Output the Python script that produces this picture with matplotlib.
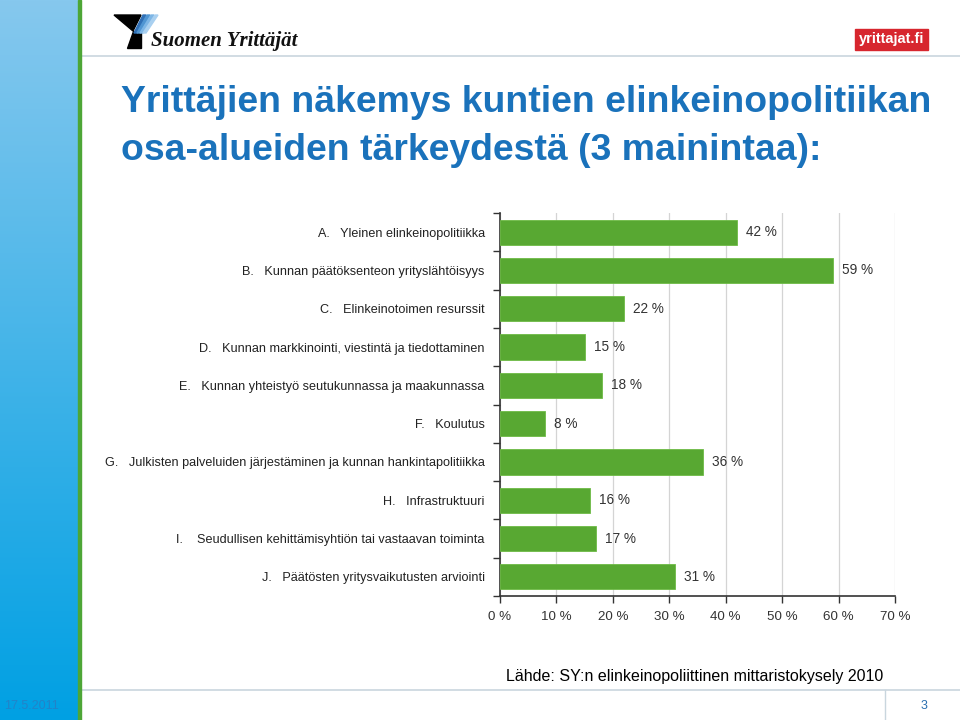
import numpy as np
import matplotlib
matplotlib.use("Agg")
import matplotlib.pyplot as plt
from matplotlib.patches import Rectangle, Polygon
from matplotlib.lines import Line2D

categories = [
    "A.   Yleinen elinkeinopolitiikka",
    "B.   Kunnan päätöksenteon yrityslähtöisyys",
    "C.   Elinkeinotoimen resurssit",
    "D.   Kunnan markkinointi, viestintä ja tiedottaminen",
    "E.   Kunnan yhteistyö seutukunnassa ja maakunnassa",
    "F.   Koulutus",
    "G.   Julkisten palveluiden järjestäminen ja kunnan hankintapolitiikka",
    "H.   Infrastruktuuri",
    "I.    Seudullisen kehittämisyhtiön tai vastaavan toiminta",
    "J.   Päätösten yritysvaikutusten arviointi",
]
values = [42, 59, 22, 15, 18, 8, 36, 16, 17, 31]
xticks = [0, 10, 20, 30, 40, 50, 60, 70]
xticklabels = ["0 %", "10 %", "20 %", "30 %", "40 %", "50 %", "60 %", "70 %"]

title_lines = ["Yrittäjien näkemys kuntien elinkeinopolitiikan",
               "osa-alueiden tärkeydestä (3 mainintaa):"]
source = "Lähde: SY:n elinkeinopoliittinen mittaristokysely 2010"
date = "17.5.2011"
page = "3"

sans = ["Liberation Sans", "DejaVu Sans"]
plt.rcParams["font.family"] = sans

W, H = 960, 720
fig = plt.figure(figsize=(W / 100, H / 100), dpi=100)
fig.patch.set_facecolor("white")

def fx(px):
    return px / W

def fy(py):
    return 1 - py / H

# left blue strip with gradient
strip = fig.add_axes([0, 0, fx(78), 1])
grad = np.linspace(0, 1, 256).reshape(-1, 1)
top = np.array([0x86, 0xc8, 0xee]) / 255
bot = np.array([0x00, 0xa0, 0xe3]) / 255
img = top[None, None, :] * (1 - grad[..., None]) + bot[None, None, :] * grad[..., None]
strip.imshow(img, aspect="auto", extent=[0, 1, 0, 1], origin="upper")
strip.set_axis_off()

# overlay (lines and shapes in figure coords)
ov = fig.add_axes([0, 0, 1, 1], facecolor="none")
ov.set_xlim(0, W)
ov.set_ylim(H, 0)
ov.set_axis_off()
ov.add_patch(Rectangle((78, 0), 3, H, color="#4da636", zorder=3))
ov.add_line(Line2D([82, W], [56, 56], color="#c9d6de", lw=1.2))
ov.add_line(Line2D([82, W], [690, 690], color="#c9d6de", lw=1.2))
ov.add_line(Line2D([885, 885], [690, H], color="#c9d6de", lw=1.0))

# Suomen Yrittäjät logo
ov.add_patch(Polygon([[114, 15], [141, 15], [133, 31]], closed=True, color="black"))
ov.add_patch(Polygon([[133, 31], [141, 31], [141, 48], [127, 48]], closed=True, color="black"))
for i, c in enumerate(["#2f6fb5", "#4f95d2", "#7db6e6", "#a9d0f0"]):
    ov.add_patch(Polygon([[143 + i * 4, 15], [146 + i * 4, 15], [137 + i * 3, 33], [134 + i * 3, 33]],
                         closed=True, color=c))
ov.text(151, 46, "Suomen Yrittäjät", fontsize=15, fontstyle="italic", fontweight="bold",
        family=["Liberation Serif", "DejaVu Serif"], color="#111111", va="baseline", ha="left")

# yrittajat.fi logo
ov.add_patch(Rectangle((855, 29), 73, 21, color="#d7262e"))
ov.text(891.5, 39.5, "yrittajat.fi", fontsize=10.5, fontweight="bold", color="white",
        ha="center", va="center")

# title
ov.text(121, 112, title_lines[0], fontsize=26.9, fontweight="bold", color="#1a72bb",
        ha="left", va="baseline")
ov.text(121, 160, title_lines[1], fontsize=26.9, fontweight="bold", color="#1a72bb",
        ha="left", va="baseline")

# footer
ov.text(883, 676, source, fontsize=11.5, color="black", ha="right", va="center")
ov.text(4, 706, date, fontsize=9, color="#2a7cc2", ha="left", va="center", alpha=0.8)
ov.text(924, 706, page, fontsize=9, color="#2a6fb0", ha="center", va="center")

# chart
ax = fig.add_axes([fx(500), fy(596), fx(895 - 500), fy(213) - fy(596)])
y = np.arange(len(categories))
ax.barh(y, values, height=0.66, color="#58a832", edgecolor="#6dbb45", linewidth=0.6, zorder=3)
ax.set_ylim(len(categories) - 0.5, -0.5)
ax.set_xlim(0, 70)
ax.set_xticks(xticks)
ax.set_xticklabels(xticklabels, fontsize=9.6, color="#333333")
ax.set_yticks(y)
ax.set_yticklabels(categories, fontsize=9.1, color="#222222")
ax.tick_params(axis="y", length=0, pad=11)
ax.set_yticks(np.arange(-0.5, len(categories) + 0.5, 1), minor=True)
ax.tick_params(axis="y", which="minor", length=5, color="#333333", width=1)
ax.tick_params(axis="x", length=5, color="#333333", width=1, pad=6)
ax.grid(axis="x", color="#d4d4d4", lw=0.9, zorder=0)
for s in ["top", "right"]:
    ax.spines[s].set_visible(False)
for s in ["left", "bottom"]:
    ax.spines[s].set_color("#333333")
    ax.spines[s].set_linewidth(1.2)
for yi, v in zip(y, values):
    ax.text(v + 1.6, yi, f"{v} %", va="center", ha="left",
            fontsize=9.8, color="#333333")

fig.savefig("out.png", dpi=100)
